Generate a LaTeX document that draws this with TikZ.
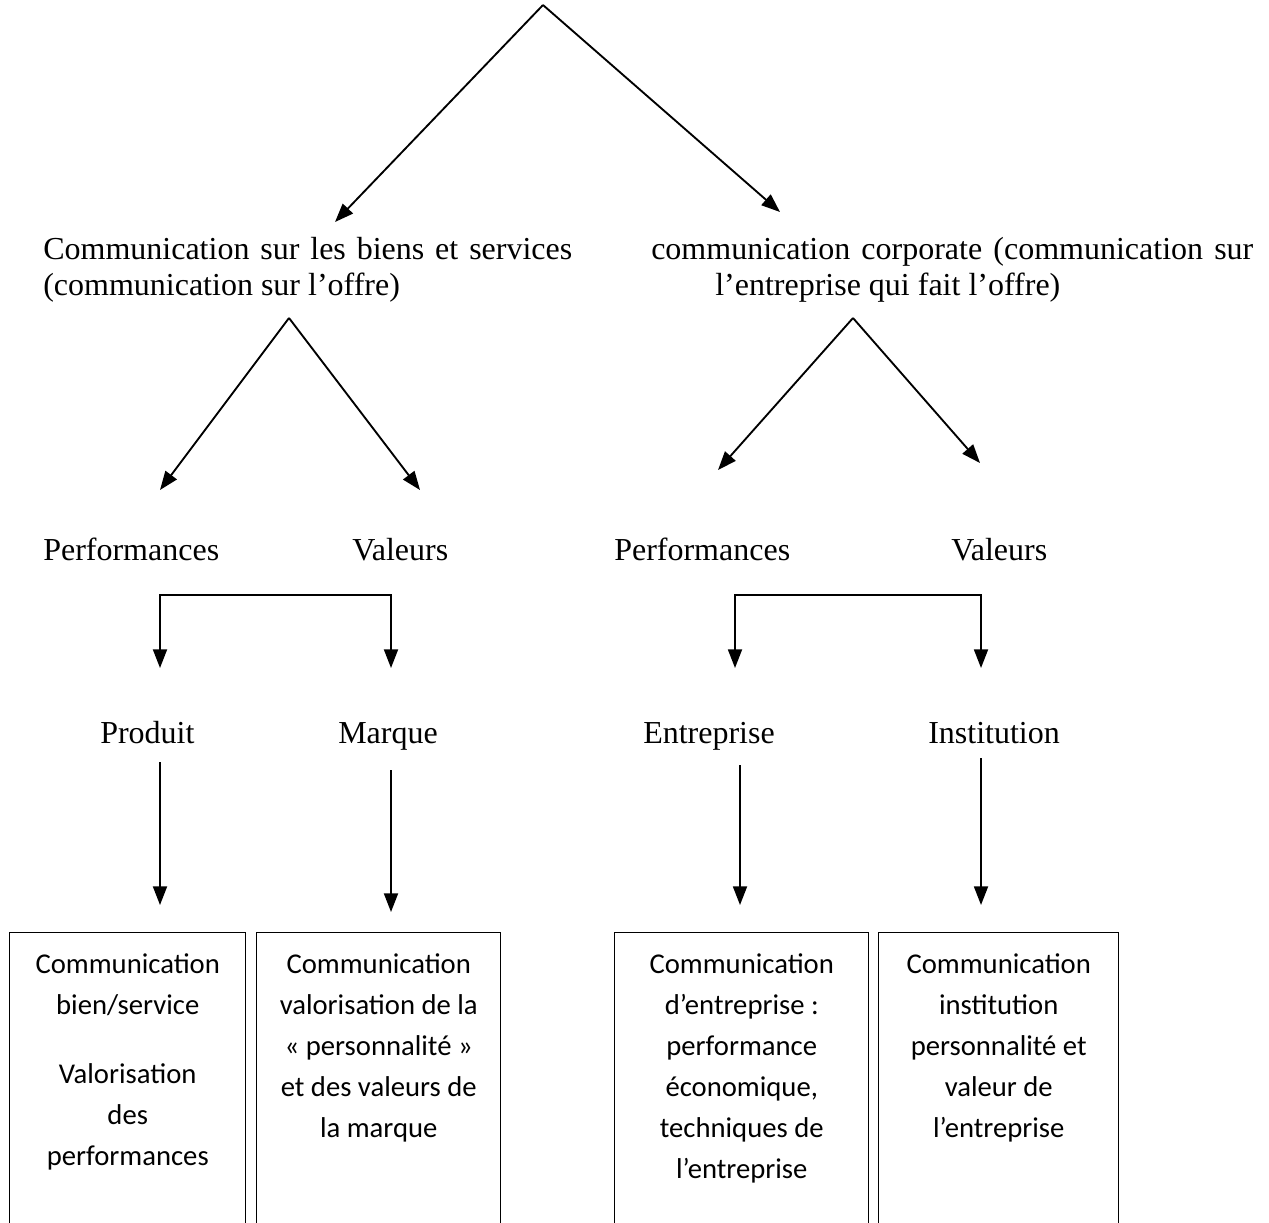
\documentclass[tikz,border=0pt]{standalone}
\usepackage{fontspec}
\setmainfont{Liberation Serif}
\newfontfamily\boxfont{Carlito}
\usetikzlibrary{arrows.meta}
\begin{document}
\begin{tikzpicture}[x=0.75pt,y=-0.75pt,
  arr/.style={-{Triangle[length=14pt,width=10.5pt]}, line width=1.4pt},
  lbl/.style={inner sep=0pt, anchor=base west, font=\fontsize{24pt}{27pt}\selectfont},
  head/.style={inner sep=0pt, anchor=north west, align=justify, font=\fontsize{24pt}{27pt}\selectfont},
  boxn/.style={draw, line width=1.1pt, anchor=north west, inner xsep=0pt, inner ysep=16pt}
]
\useasboundingbox (0,0) rectangle (1269,1222);

% headings
\node[head, text width=396.75pt] (hl) at (43,237)
  {Communication sur les biens et services\linebreak (communication sur l’offre)};
\node[head, text width=451.5pt] (hr) at (651,237)
  {communication corporate (communication sur\linebreak \hspace*{48pt}l’entreprise qui fait l’offre)};

% level labels
\node[lbl] (perfL) at (43,560) {Performances};
\node[lbl] (valL) at (352,560) {Valeurs};
\node[lbl] (perfR) at (614,560) {Performances};
\node[lbl] (valR) at (951,560) {Valeurs};

\node[lbl] (prod) at (100,743) {Produit};
\node[lbl] (marq) at (338,743) {Marque};
\node[lbl] (entr) at (643,743) {Entreprise};
\node[lbl] (inst) at (928,743) {Institution};

% boxes
\newcommand{\boxtext}[2]{\parbox[t][250pt][t]{#1}{\centering\boxfont\fontsize{21.5pt}{30.75pt}\selectfont #2}}
\node[boxn] (b1) at (9,932) {\boxtext{177pt}{Communication\\ bien/service\\[21pt] Valorisation\\ des\\ performances}};
\node[boxn] (b2) at (256,932) {\boxtext{183pt}{Communication\\ valorisation de la\\ « personnalité »\\ et des valeurs de\\ la marque}};
\node[boxn] (b3) at (614,932) {\boxtext{190.5pt}{Communication\\ d’entreprise :\\ performance\\ économique,\\ techniques de\\ l’entreprise}};
\node[boxn] (b4) at (878,932) {\boxtext{180pt}{Communication\\ institution\\ personnalité et\\ valeur de\\ l’entreprise}};

% coordinates
\coordinate (apex) at (543,5);
\coordinate (tipHL) at (335,222);
\coordinate (tipHR) at (780,212);
\coordinate (apexL) at (289,318);
\coordinate (tipPL) at (160,490);
\coordinate (tipVL) at (420,490);
\coordinate (apexR) at (853,318);
\coordinate (tipPR) at (718,470);
\coordinate (tipVR) at (980,463);
\coordinate (brL) at (275,595);
\coordinate (tipProd) at (160,668);
\coordinate (tipMarq) at (391,668);
\coordinate (brR) at (858,595);
\coordinate (tipEntr) at (735,668);
\coordinate (tipInst) at (981,668);

\coordinate (sProd) at (160,762);
\coordinate (eProd) at (160,905);
\coordinate (sMarq) at (391,770);
\coordinate (eMarq) at (391,912);
\coordinate (sEntr) at (740,765);
\coordinate (eEntr) at (740,905);
\coordinate (sInst) at (981,758);
\coordinate (eInst) at (981,905);

% connectors
\draw[arr] (apex) -- (tipHL);
\draw[arr] (apex) -- (tipHR);
\draw[arr] (apexL) -- (tipPL);
\draw[arr] (apexL) -- (tipVL);
\draw[arr] (apexR) -- (tipPR);
\draw[arr] (apexR) -- (tipVR);
\draw[arr] (brL) -| (tipProd);
\draw[arr] (brL) -| (tipMarq);
\draw[arr] (brR) -| (tipEntr);
\draw[arr] (brR) -| (tipInst);
\draw[arr] (sProd) -- (eProd);
\draw[arr] (sMarq) -- (eMarq);
\draw[arr] (sEntr) -- (eEntr);
\draw[arr] (sInst) -- (eInst);
\end{tikzpicture}
\end{document}
